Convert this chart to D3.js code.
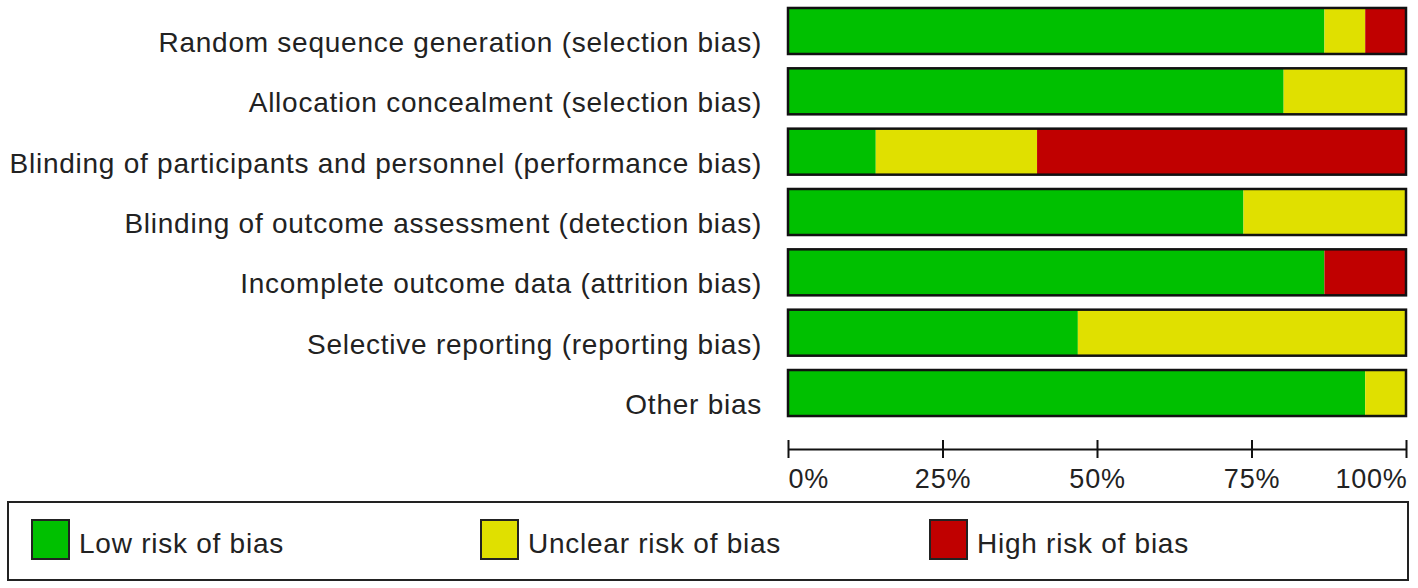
<!DOCTYPE html>
<html>
<head>
<meta charset="utf-8">
<script src="https://cdn.jsdelivr.net/npm/d3@7"></script>
<style>
  body { margin: 0; background: #fff; }
  text { font-family: "Liberation Sans", Arial, sans-serif; fill: #222; letter-spacing: 0.75px; }
</style>
</head>
<body>
<svg id="chart" width="1418" height="588"></svg>
<script>
// risk of bias domains (top to bottom)
const domains = [
  "Random sequence generation (selection bias)",
  "Allocation concealment (selection bias)",
  "Blinding of participants and personnel (performance bias)",
  "Blinding of outcome assessment (detection bias)",
  "Incomplete outcome data (attrition bias)",
  "Selective reporting (reporting bias)",
  "Other bias"
];
// percent of studies per judgement
const lowRisk     = [86.8, 80.2, 14.2, 73.7, 86.8, 46.9, 93.4];
const unclearRisk = [ 6.6, 19.8, 26.1, 26.3,  0.0, 53.1,  6.6];
const highRisk    = [ 6.6,  0.0, 59.7,  0.0, 13.2,  0.0,  0.0];
const tickValues  = [0, 25, 50, 75, 100];
const legendLabels = ["Low risk of bias", "Unclear risk of bias", "High risk of bias"];
const colors = ["#00c000", "#e0e000", "#c00000"];

const svg = d3.select("#chart");

const x = d3.scaleLinear().domain([0, 100]).range([788, 1406]);
const y = d3.scaleBand().domain(domains).range([0.8, 423.2]).paddingInner(0.2375).paddingOuter(0.119);

const rows = domains.map((d, i) => ({name: d, vals: [lowRisk[i], unclearRisk[i], highRisk[i]]}));

const row = svg.append("g").selectAll("g")
  .data(rows)
  .enter()
  .append("g")
  .attr("transform", d => `translate(0,${y(d.name)})`);

row.each(function(d) {
  let acc = 0;
  const segs = d.vals.map((v, k) => { const s = {x0: acc, x1: acc + v, k: k}; acc += v; return s; });
  d3.select(this).selectAll("rect.seg")
    .data(segs.filter(s => s.x1 > s.x0))
    .enter()
    .append("rect")
    .attr("class", "seg")
    .attr("x", s => x(s.x0))
    .attr("width", s => x(s.x1) - x(s.x0))
    .attr("y", 0)
    .attr("height", y.bandwidth())
    .attr("fill", s => colors[s.k]);
});

// outline of each bar
row.append("rect")
  .attr("x", x(0))
  .attr("width", x(100) - x(0))
  .attr("y", 0)
  .attr("height", y.bandwidth())
  .attr("fill", "none")
  .attr("stroke", "#111")
  .attr("stroke-width", 2.5);

// labels sit low, baseline near bar bottom
row.append("text")
  .attr("x", 762)
  .attr("y", y.bandwidth() - 2)
  .attr("text-anchor", "end")
  .attr("font-size", 28)
  .text(d => d.name);

// x axis
const axis = svg.append("g")
  .attr("transform", "translate(0,449)")
  .call(d3.axisBottom(x).tickValues(tickValues).tickFormat(d => d + "%").tickSize(9).tickSizeOuter(0));
axis.select(".domain").attr("stroke", "#111").attr("stroke-width", 2);
axis.selectAll(".tick line").attr("y1", -9).attr("y2", 9).attr("stroke", "#111").attr("stroke-width", 2);
axis.selectAll(".tick text")
  .attr("y", 39)
  .attr("dy", null)
  .attr("font-size", 27)
  .attr("fill", "#222")
  .attr("font-family", "Liberation Sans, Arial, sans-serif");
axis.selectAll(".tick text").filter(d => d === 0).attr("text-anchor", "start");
axis.selectAll(".tick text").filter(d => d === 100).attr("text-anchor", "end").attr("dx", 1);

// legend
const legend = svg.append("g");
legend.append("rect")
  .attr("x", 8).attr("y", 502).attr("width", 1400).attr("height", 78)
  .attr("fill", "#fff").attr("stroke", "#222").attr("stroke-width", 2);

const legendX = d3.scalePoint().domain(legendLabels).range([32, 930]);
const item = legend.selectAll("g.item")
  .data(legendLabels)
  .enter()
  .append("g")
  .attr("class", "item")
  .attr("transform", d => `translate(${legendX(d)},520)`);
item.append("rect")
  .attr("width", 37).attr("height", 39)
  .attr("fill", (d, i) => colors[i])
  .attr("stroke", "#222").attr("stroke-width", 2);
item.append("text")
  .attr("x", 47).attr("y", 33)
  .attr("font-size", 28)
  .text(d => d);
</script>
</body>
</html>
